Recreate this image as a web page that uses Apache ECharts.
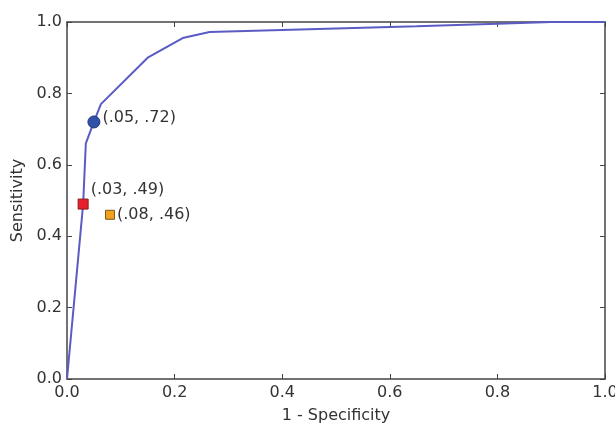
<!DOCTYPE html>
<html>
<head>
<meta charset="utf-8">
<script src="https://cdn.jsdelivr.net/npm/echarts@6/dist/echarts.min.js"></script>
<style>
  html, body { margin: 0; padding: 0; background: #fff; }
  #chart { width: 615px; height: 425px; }
</style>
</head>
<body>
<div id="chart"></div>
<script>
// ROC curve points (1 - specificity, sensitivity)
const fpr = [0, 0.03, 0.035, 0.05, 0.063, 0.15, 0.215, 0.265, 0.45, 0.65, 0.8, 0.9, 1.0];
const tpr = [0, 0.49, 0.66, 0.72, 0.77, 0.90, 0.955, 0.972, 0.98, 0.988, 0.995, 1.0, 1.0];

// highlighted operating points
const pointNames = ['blue', 'red', 'orange'];
const pointX = [0.05, 0.03, 0.08];
const pointY = [0.72, 0.49, 0.46];
const pointLabels = ['(.05, .72)', '(.03, .49)', '(.08, .46)'];

const ticks = ['0.0', '0.2', '0.4', '0.6', '0.8', '1.0'];

const font = 'DejaVu Sans';
const textColor = '#333';
const frameColor = '#444';

const chart = echarts.init(document.getElementById('chart'));

const axisBase = {
  type: 'value',
  min: 0,
  max: 1,
  interval: 0.2,
  splitLine: { show: false },
  axisLine: { show: true, onZero: false, lineStyle: { color: frameColor, width: 1.5 } },
  axisTick: { show: true, inside: true, length: 5, lineStyle: { color: frameColor } }
};

const tickLabel = {
  fontFamily: font,
  fontSize: 16,
  color: textColor,
  formatter: v => ticks[Math.round(v / 0.2)]
};

const curveData = fpr.map((x, i) => [x, tpr[i]]);

const markerStyles = {
  blue: { symbol: 'circle', symbolSize: 12, itemStyle: { color: '#3150a8', borderColor: '#23387a', borderWidth: 1, opacity: 1 },
    label: { position: 'right', distance: 2, offset: [0, -4] } },
  red: { symbol: 'rect', symbolSize: 10, itemStyle: { color: '#e8202a', borderColor: '#8a1a1a', borderWidth: 1, opacity: 1 },
    label: { position: 'right', distance: 2, offset: [0, -14] } },
  orange: { symbol: 'rect', symbolSize: 9, itemStyle: { color: '#f2a020', borderColor: '#7a5a20', borderWidth: 1, opacity: 1 },
    label: { position: 'right', distance: 2, offset: [0, 0] } }
};

const pointSeries = pointNames.map((name, i) => {
  const s = markerStyles[name];
  return {
    type: 'scatter',
    name: name,
    symbol: s.symbol,
    symbolSize: s.symbolSize,
    itemStyle: s.itemStyle,
    data: [[pointX[i], pointY[i]]],
    z: 5,
    label: Object.assign({
      show: true,
      formatter: pointLabels[i],
      fontFamily: font,
      fontSize: 16,
      color: textColor
    }, s.label)
  };
});

const option = {
  animation: false,
  backgroundColor: '#fff',
  grid: { left: 67, right: 10, top: 22, bottom: 46, containLabel: false, outerBoundsMode: 'none' },
  xAxis: [
    Object.assign({}, axisBase, {
      position: 'bottom',
      name: '1 - Specificity',
      nameLocation: 'middle',
      nameGap: 29,
      nameTextStyle: { fontFamily: font, fontSize: 16, color: textColor },
      axisLabel: Object.assign({ margin: 6 }, tickLabel)
    }),
    Object.assign({}, axisBase, { position: 'top', axisLabel: { show: false } })
  ],
  yAxis: [
    Object.assign({}, axisBase, {
      position: 'left',
      name: 'Sensitivity',
      nameLocation: 'middle',
      nameGap: 41,
      nameTextStyle: { fontFamily: font, fontSize: 16, color: textColor },
      axisLabel: Object.assign({ margin: 5 }, tickLabel)
    }),
    Object.assign({}, axisBase, { position: 'right', axisLabel: { show: false } })
  ],
  series: [
    {
      type: 'line',
      name: 'ROC',
      data: curveData,
      symbol: 'none',
      lineStyle: { color: '#5b5bc4', width: 2 },
      z: 3
    }
  ].concat(pointSeries)
};

chart.setOption(option);
</script>
</body>
</html>
